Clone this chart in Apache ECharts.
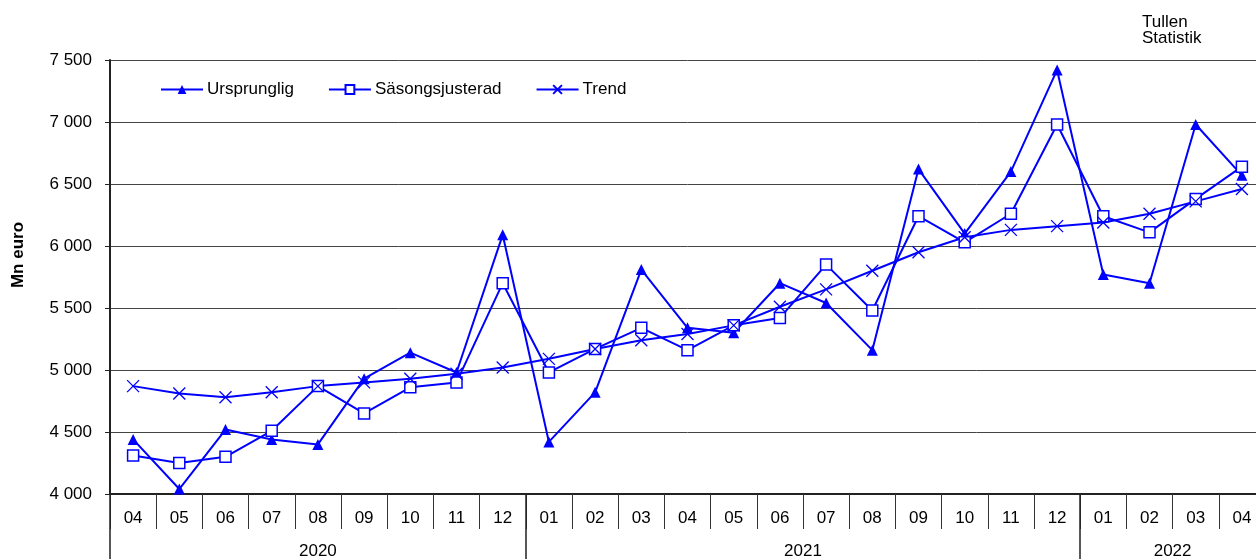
<!DOCTYPE html>
<html>
<head>
<meta charset="utf-8">
<script src="https://cdn.jsdelivr.net/npm/echarts@6/dist/echarts.min.js"></script>
<style>
html,body{margin:0;padding:0;background:#fff;overflow:hidden;}
#chart{width:1266px;height:560px;}
</style>
</head>
<body>
<div id="chart"></div>
<script>
const months = ['04','05','06','07','08','09','10','11','12','01','02','03','04','05','06','07','08','09','10','11','12','01','02','03','04'];
const years = ['2020','2021','2022'];
const yearSpans = [9, 12, 4];
const ursprunglig = [4440,4040,4520,4440,4400,4930,5140,4980,6090,4420,4820,5810,5340,5300,5700,5540,5160,6620,6100,6600,7420,5770,5700,6980,6570];
const sasongsjusterad = [4310,4250,4300,4510,4870,4650,4860,4900,5700,4980,5170,5340,5160,5360,5420,5850,5480,6240,6030,6260,6980,6240,6110,6380,6640];
const trend = [4870,4810,4780,4820,4870,4900,4930,4970,5020,5090,5170,5240,5290,5360,5510,5650,5800,5950,6070,6130,6160,6190,6260,6360,6460];
const seriesNames = ['Ursprunglig','Säsongsjusterad','Trend'];
const yTicks = [4000,4500,5000,5500,6000,6500,7000,7500];

// year axis built on half-month steps (boundaries of months)
const yearAxisData = new Array(months.length * 2 + 1).fill('');
const yearTickIdx = [];
let b = 0;
years.forEach((y, k) => {
  yearTickIdx.push(2 * b);
  yearAxisData[2 * b + yearSpans[k]] = y;
  b += yearSpans[k];
});

const FONT = '"Liberation Sans", Arial, sans-serif';
const chart = echarts.init(document.getElementById('chart'), null, {renderer: 'canvas'});
const blue = '#0000FF';

chart.setOption({
  animation: false,
  backgroundColor: '#fff',
  textStyle: {fontFamily: FONT},
  title: {
    text: 'Tullen\nStatistik',
    left: 1142, top: 14, padding: 0,
    textStyle: {fontSize: 17, fontWeight: 'normal', color: '#000', fontFamily: FONT, lineHeight: 16}
  },
  grid: {left: 110, top: 60, width: 1155, height: 435, containLabel: false},
  legend: {
    left: 155, top: 76,
    itemWidth: 42, itemHeight: 11, itemGap: 34,
    textStyle: {fontSize: 17, color: '#000', fontFamily: FONT, padding: [0,0,0,-1]},
    data: seriesNames
  },
  xAxis: [
    {
      type: 'category', data: months, boundaryGap: true, position: 'bottom',
      axisLine: {show: true, lineStyle: {color: '#222', width: 2}},
      axisTick: {show: true, interval: 0, length: 35, lineStyle: {color: '#333', width: 1}},
      axisLabel: {interval: 0, margin: 16, fontSize: 17, color: '#000', fontFamily: FONT},
      splitLine: {show: false}
    },
    {
      type: 'category', data: yearAxisData, boundaryGap: false, position: 'bottom',
      axisLine: {show: false},
      axisTick: {show: true, length: 65, interval: (i) => yearTickIdx.includes(i), lineStyle: {color: '#222', width: 1.5}},
      axisLabel: {interval: (i, v) => v !== '', margin: 49, fontSize: 17, color: '#000', fontFamily: FONT},
      splitLine: {show: false}
    }
  ],
  yAxis: {
    type: 'value', min: yTicks[0], max: yTicks[yTicks.length - 1], interval: 500,
    name: 'Mn euro', nameLocation: 'middle', nameRotate: 90, nameGap: 83,
    nameTextStyle: {fontSize: 17, fontWeight: 'bold', color: '#000', fontFamily: FONT, padding: [0, 0, 0, 44]},
    axisLine: {show: true, lineStyle: {color: '#222', width: 2}},
    axisTick: {show: true, length: 5, lineStyle: {color: '#222'}},
    axisLabel: {
      margin: 18, fontSize: 17, color: '#000', fontFamily: FONT,
      formatter: (v) => String(v).replace(/\B(?=(\d{3})+(?!\d))/g, ' ')
    },
    splitLine: {show: true, lineStyle: {color: '#444', width: 1}}
  },
  series: [
    {
      name: seriesNames[0], type: 'line', data: ursprunglig,
      symbol: 'triangle', symbolSize: 11,
      lineStyle: {color: blue, width: 2},
      itemStyle: {color: blue}
    },
    {
      name: seriesNames[1], type: 'line', data: sasongsjusterad,
      symbol: 'rect', symbolSize: 11,
      lineStyle: {color: blue, width: 2},
      itemStyle: {color: '#fff', borderColor: blue, borderWidth: 1.5}
    },
    {
      name: seriesNames[2], type: 'line', data: trend,
      symbol: 'path://M0,0L10,10M10,0L0,10', symbolSize: 12,
      lineStyle: {color: blue, width: 2},
      itemStyle: {color: blue, borderColor: blue, borderWidth: 1.3}
    }
  ]
});
</script>
</body>
</html>
